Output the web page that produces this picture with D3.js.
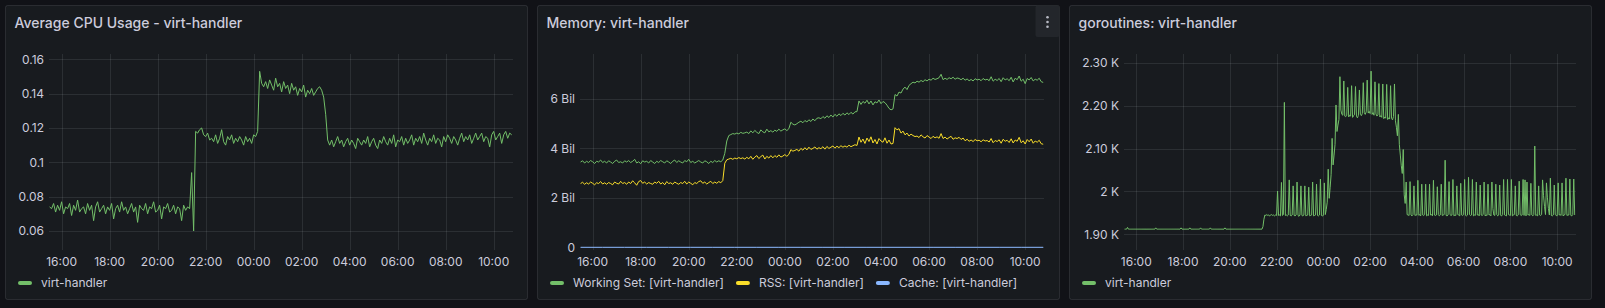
<!DOCTYPE html>
<html><head><meta charset="utf-8">
<script src="https://cdn.jsdelivr.net/npm/d3@7"></script>
<style>
html,body{margin:0;padding:0;background:#111217;overflow:hidden;}
svg{display:block;font-family:Inter,"Noto Sans",sans-serif;}
</style></head><body>
<svg id="chart" width="1605" height="308"></svg>
<script>
// ---------------- DATA ----------------
// x axis tick labels (shared)
const xTickLabels = ["16:00","18:00","20:00","22:00","00:00","02:00","04:00","06:00","08:00","10:00"];

// CPU: average cores, one value every 5 minutes from 15:30
const cpuUsage = [
0.074,0.073,0.076,0.071,0.075,0.072,0.077,0.070,0.074,0.073,0.076,0.069,
0.075,0.072,0.078,0.071,0.073,0.074,0.070,0.076,0.072,0.075,0.066,0.074,
0.077,0.071,0.073,0.075,0.070,0.074,0.072,0.076,0.067,0.073,0.075,0.071,
0.077,0.072,0.074,0.070,0.073,0.076,0.071,0.074,0.065,0.075,0.073,0.072,
0.076,0.070,0.074,0.073,0.077,0.071,0.072,0.075,0.067,0.074,0.073,0.076,
0.071,0.072,0.075,0.070,0.074,0.073,0.066,0.075,0.072,0.074,0.073,0.094,
0.060,0.118,0.117,0.119,0.120,0.116,0.115,0.117,0.113,0.114,0.112,0.116,
0.111,0.114,0.119,0.112,0.110,0.115,0.113,0.116,0.111,0.114,0.112,0.115,
0.113,0.110,0.115,0.112,0.114,0.111,0.116,0.115,0.118,0.153,0.146,0.144,
0.147,0.143,0.148,0.145,0.142,0.149,0.144,0.146,0.141,0.147,0.143,0.145,
0.140,0.146,0.142,0.144,0.139,0.143,0.141,0.145,0.138,0.142,0.140,0.143,
0.139,0.141,0.143,0.144,0.142,0.138,0.128,0.113,0.110,0.113,0.109,0.112,
0.115,0.111,0.113,0.109,0.112,0.114,0.110,0.113,0.111,0.108,0.114,0.112,
0.110,0.113,0.111,0.115,0.109,0.112,0.114,0.110,0.108,0.113,0.111,0.115,
0.112,0.110,0.114,0.111,0.116,0.109,0.113,0.112,0.115,0.110,0.114,0.111,
0.113,0.116,0.110,0.114,0.112,0.115,0.111,0.117,0.113,0.110,0.114,0.112,
0.116,0.111,0.114,0.113,0.109,0.115,0.112,0.116,0.114,0.111,0.115,0.113,
0.110,0.114,0.117,0.112,0.115,0.113,0.116,0.111,0.114,0.117,0.113,0.115,
0.117,0.112,0.115,0.114,0.109,0.116,0.118,0.113,0.115,0.117,0.111,0.116,
0.118,0.114,0.117,0.116];
const cpuTicks = [0.06,0.08,0.1,0.12,0.14,0.16];
const cpuTickLabels = ["0.06","0.08","0.1","0.12","0.14","0.16"];

// Memory (billions of bytes), every 5 minutes from 15:30
const workingSet = [
3.45,3.50,3.41,3.48,3.43,3.51,3.46,3.39,3.48,3.45,3.53,3.43,
3.48,3.41,3.50,3.45,3.39,3.48,3.53,3.43,3.46,3.41,3.50,3.45,
3.51,3.43,3.48,3.56,3.41,3.46,3.38,3.50,3.45,3.48,3.41,3.51,
3.45,3.39,3.48,3.43,3.51,3.46,3.41,3.50,3.45,3.39,3.48,3.53,
3.43,3.50,3.45,3.41,3.51,3.46,3.56,3.43,3.48,3.41,3.46,3.51,
3.45,3.41,3.50,3.46,3.39,3.48,3.43,3.51,3.45,3.50,3.46,3.53,
3.80,4.30,4.52,4.56,4.60,4.58,4.62,4.59,4.65,4.61,4.63,4.66,
4.60,4.71,4.63,4.73,4.65,4.60,4.75,4.67,4.63,4.78,4.67,4.72,
4.66,4.74,4.69,4.78,4.70,4.75,4.79,4.72,4.80,5.06,4.98,4.95,
5.00,5.06,5.10,5.04,5.13,5.07,5.16,5.09,5.19,5.12,5.22,5.24,
5.20,5.29,5.22,5.32,5.25,5.35,5.27,5.38,5.30,5.40,5.33,5.42,
5.35,5.44,5.37,5.46,5.39,5.48,5.49,5.92,5.78,5.90,5.83,5.95,
5.80,5.92,5.76,5.89,5.84,5.96,5.81,5.90,5.85,5.75,5.62,5.56,
5.60,6.18,6.12,6.28,6.24,6.40,6.48,6.38,6.55,6.62,6.68,6.65,
6.72,6.68,6.75,6.70,6.78,6.73,6.80,6.76,6.84,6.79,6.82,6.86,
7.00,6.78,6.84,6.79,6.86,6.82,6.88,6.80,6.85,6.83,6.78,6.84,
6.76,6.81,6.74,6.79,6.73,6.82,6.77,6.80,6.74,6.83,6.77,6.80,
6.74,6.90,6.72,6.80,6.75,6.83,6.70,6.86,6.77,6.82,6.74,6.88,
6.69,6.84,6.78,6.93,6.72,6.80,6.62,6.83,6.77,6.87,6.73,6.80,
6.76,6.84,6.70,6.67];
const rss = [
2.58,2.63,2.55,2.61,2.56,2.64,2.59,2.53,2.61,2.58,2.66,2.56,
2.61,2.55,2.62,2.58,2.53,2.64,2.59,2.56,2.67,2.58,2.62,2.55,
2.64,2.58,2.69,2.61,2.51,2.66,2.70,2.59,2.64,2.56,2.62,2.58,
2.55,2.64,2.59,2.67,2.56,2.62,2.53,2.66,2.58,2.61,2.55,2.64,
2.59,2.55,2.62,2.58,2.67,2.56,2.64,2.59,2.53,2.62,2.58,2.66,
2.69,2.59,2.64,2.56,2.62,2.67,2.58,2.64,2.59,2.66,2.61,2.70,
3.40,3.54,3.57,3.60,3.56,3.61,3.58,3.63,3.59,3.62,3.57,3.64,
3.58,3.68,3.56,3.65,3.71,3.59,3.67,3.73,3.57,3.68,3.61,3.71,
3.62,3.71,3.64,3.74,3.65,3.69,3.75,3.68,3.76,3.95,3.89,3.92,
3.96,3.89,4.00,3.93,4.03,3.94,4.05,3.96,4.00,4.06,3.97,4.03,
3.99,4.07,3.97,4.08,4.00,4.05,4.10,4.01,4.09,4.03,4.11,4.05,
4.10,4.05,4.13,4.07,4.11,4.15,4.12,4.46,4.25,4.38,4.20,4.42,
4.28,4.47,4.22,4.36,4.18,4.40,4.30,4.25,4.43,4.21,4.34,4.18,
4.20,4.84,4.75,4.80,4.62,4.70,4.55,4.62,4.50,4.58,4.52,4.48,
4.50,4.44,4.55,4.47,4.42,4.52,4.46,4.40,4.49,4.43,4.47,4.41,
4.60,4.40,4.46,4.38,4.44,4.49,4.37,4.43,4.40,4.45,4.36,4.42,
4.31,4.37,4.29,4.34,4.28,4.36,4.31,4.33,4.27,4.35,4.30,4.32,
4.26,4.40,4.23,4.32,4.28,4.35,4.21,4.37,4.29,4.33,4.24,4.39,
4.22,4.34,4.29,4.45,4.23,4.31,4.18,4.36,4.27,4.38,4.21,4.30,
4.25,4.33,4.19,4.17];
// cache: one value every 55 minutes from 15:30
const cache = [0,0,0,0,0,0,0,0,0,0,0,0,0,0,0,0,0,0,0,0,0,0];
const memTicks = [0,2,4,6];
const memTickLabels = ["0","2 Bil","4 Bil","6 Bil"];
const memLegend = ["Working Set: [virt-handler]","RSS: [virt-handler]","Cache: [virt-handler]"];

// goroutines, one value every 2.5 minutes from 15:30
const goroutines = [
1912,1912,1912,1916,1912,1912,1912,1912,1912,1912,1912,1912,1912,1912,1912,1912,1912,1912,1912,1912,1912,1912,1912,1912,
1912,1912,1912,1912,1912,1912,1912,1912,1915,1912,1912,1912,1912,1912,1912,1912,1912,1912,1912,1912,1912,1912,1912,1912,
1912,1912,1912,1912,1912,1912,1912,1912,1912,1912,1915,1912,1912,1912,1912,1912,1912,1912,1912,1915,1912,1912,1912,1912,
1912,1912,1912,1912,1912,1912,1915,1912,1912,1912,1912,1912,1912,1912,1912,1912,1915,1912,1912,1912,1912,1912,1912,1912,
1912,1912,1912,1912,1912,1912,1912,1915,1912,1912,1912,1912,1912,1912,1912,1912,1912,1912,1912,1912,1912,1912,1912,1912,
1912,1912,1912,1912,1912,1912,1912,1912,1912,1912,1912,1912,1912,1912,1912,1912,1912,1912,1912,1912,1912,1912,1918,1935,
1945,1944,1946,1944,1945,1943,1945,1946,1944,1945,1943,1945,1944,2001,1944,1945,1943,2021,1944,1946,2208,1944,1945,1943,
1945,2027,1944,1943,1945,2013,1944,1943,1945,2022,1944,1942,1945,2013,1944,1943,1945,2013,1943,1944,1945,2010,1943,1944,
1945,2022,1943,1944,1945,2017,1944,1943,1945,2029,1944,1943,1944,2020,1946,1958,1975,2052,1984,2010,2040,2124,2062,2085,
2110,2202,2140,2155,2168,2268,2190,2180,2178,2258,2176,2175,2177,2243,2174,2178,2176,2247,2173,2177,2179,2245,2175,2172,
2178,2237,2180,2177,2182,2254,2184,2180,2186,2260,2183,2187,2182,2281,2180,2184,2178,2256,2181,2176,2179,2252,2174,2177,
2173,2251,2170,2174,2171,2250,2168,2172,2169,2247,2171,2167,2175,2251,2165,2150,2130,2180,2110,2085,2060,2042,2098,1992,
1972,2022,1946,1945,1944,2023,1945,1943,1946,2013,1944,1945,1945,2026,1944,1946,1943,2017,1945,1944,1946,2017,1943,1945,
1944,2017,1945,1946,1943,2026,1945,1944,1945,2011,1946,1943,1945,2017,1944,1945,1946,2073,1944,1943,1945,2023,1946,1944,
1945,2028,1943,1945,1944,2013,1946,1945,1943,2019,1945,1944,1946,2028,1944,1943,1945,2033,1946,1944,1945,2028,1943,1945,
1944,2022,1945,1946,1943,2015,1945,1944,1946,2022,1943,1945,1944,2017,1945,1946,1943,2022,1960,1945,1944,2017,1946,1943,
1945,2015,1944,1943,1946,2028,1945,1944,1943,2028,1946,1945,1944,2028,1943,1945,1946,2013,1944,1943,1945,2024,1946,1944,
1945,2028,1944,2027,1943,2022,1945,1946,1944,2019,1945,1943,1946,2106,1944,1945,1943,2013,1945,1944,1946,2027,1990,1965,
1946,2020,1985,1960,1945,2031,1944,1943,1945,2015,1946,1944,1943,2020,1945,1946,1944,2020,1943,1945,1946,2031,1944,1945,
1945,2029,1944,1943,1946,2029,1945];
const gorTicks = [1900,2000,2100,2200,2300];
const gorTickLabels = ["1.90 K","2 K","2.10 K","2.20 K","2.30 K"];

// ---------------- RENDER ----------------
const START = new Date(2024,0,1,15,30);
const timeDomain = [new Date(2024,0,1,15,28,30), new Date(2024,0,2,10,47)];
function toPoints(values, stepMin){
  return values.map((v,i)=>({t:new Date(START.getTime()+i*stepMin*60000), v:v}));
}
const xTickDates = xTickLabels.map(s=>{
  const h = +s.slice(0,2);
  return h >= 15 ? new Date(2024,0,1,h,0) : new Date(2024,0,2,h,0);
});

const TEXT = "#ccccdc";
const GRID = "rgba(240,250,255,0.09)";
const svg = d3.select("#chart");

function drawPanel(cfg){
  const g = svg.append("g");
  g.append("rect").attr("x",cfg.x+0.5).attr("y",5.5).attr("width",cfg.w-1).attr("height",294)
    .attr("rx",2).attr("fill","#181b1f").attr("stroke","rgba(204,204,220,0.12)");
  g.append("text").attr("x",cfg.x+9.5).attr("y",28).attr("fill",TEXT)
    .attr("font-size",14).attr("font-weight",500).text(cfg.title);

  const p = cfg.plot;
  const x = d3.scaleTime().domain(timeDomain).range([p.l,p.r]);
  const y = d3.scaleLinear().domain(cfg.yDomain).range([p.b,p.t]);

  // grid
  const grid = g.append("g").attr("stroke",GRID).attr("stroke-width",1).attr("shape-rendering","crispEdges");
  grid.selectAll(".h").data(cfg.yTicks).join("line")
    .attr("x1",p.l).attr("x2",p.r)
    .attr("y1",d=>Math.round(y(d))+0.5).attr("y2",d=>Math.round(y(d))+0.5);
  grid.selectAll(".v").data(xTickDates).join("line")
    .attr("y1",p.t).attr("y2",p.b)
    .attr("x1",d=>Math.round(x(d))+0.5).attr("x2",d=>Math.round(x(d))+0.5);

  // y tick labels
  g.append("g").selectAll("text").data(cfg.yTicks).join("text")
    .attr("x",p.l-5).attr("y",d=>y(d)+4.3).attr("text-anchor","end")
    .attr("fill",TEXT).attr("font-size",12).text((d,i)=>cfg.yTickLabels[i]);
  // x tick labels
  g.append("g").selectAll("text").data(xTickDates).join("text")
    .attr("x",d=>x(d)).attr("y",266).attr("text-anchor","middle")
    .attr("fill",TEXT).attr("font-size",12).text((d,i)=>xTickLabels[i]);

  // series
  const clipId = "clip"+cfg.x;
  g.append("clipPath").attr("id",clipId).append("rect")
    .attr("x",p.l).attr("y",p.t-2).attr("width",p.r-p.l).attr("height",p.b-p.t+4);
  const line = d3.line().x(d=>x(d.t)).y(d=>y(d.v));
  const sg = g.append("g").attr("clip-path","url(#"+clipId+")");
  cfg.series.forEach(s=>{
    sg.append("path").datum(toPoints(s.values,s.step)).attr("d",line)
      .attr("fill","none").attr("stroke",s.color).attr("stroke-width",1)
      .attr("stroke-linejoin","round");
  });

  // legend
  let lx = cfg.x+13;
  cfg.series.forEach(s=>{
    g.append("rect").attr("x",lx).attr("y",281).attr("width",14).attr("height",4)
      .attr("rx",2).attr("fill",s.color);
    const t = g.append("text").attr("x",lx+23).attr("y",287).attr("fill",TEXT)
      .attr("font-size",12).text(s.name);
    lx = lx+23+t.node().getComputedTextLength()+12;
  });

  if(cfg.menu){
    g.append("rect").attr("x",cfg.x+cfg.w-24.5).attr("y",5.5).attr("width",24).attr("height",31.5)
      .attr("rx",2).attr("fill","#23262b");
    [17.3,22,26.7].forEach(cy=>{
      g.append("circle").attr("cx",cfg.x+cfg.w-12.5).attr("cy",cy).attr("r",1.3).attr("fill","#b8bac4");
    });
  }
}

drawPanel({
  x:5, w:523, title:"Average CPU Usage - virt-handler",
  plot:{l:49,r:512.5,t:54,b:250},
  yDomain:[0.0489,0.1631], yTicks:cpuTicks, yTickLabels:cpuTickLabels,
  series:[{name:"virt-handler",values:cpuUsage,step:5,color:"#73bf69"}]
});
drawPanel({
  x:537, w:523, title:"Memory: virt-handler", menu:true,
  plot:{l:580,r:1044,t:54,b:250},
  yDomain:[-0.109,7.82], yTicks:memTicks, yTickLabels:memTickLabels,
  series:[
    {name:memLegend[0],values:workingSet,step:5,color:"#73bf69"},
    {name:memLegend[1],values:rss,step:5,color:"#fade2a"},
    {name:memLegend[2],values:cache,step:55,color:"#8ab8ff"}
  ]
});
drawPanel({
  x:1069, w:523, title:"goroutines: virt-handler",
  plot:{l:1124,r:1575.5,t:54,b:250},
  yDomain:[1863.3,2321], yTicks:gorTicks, yTickLabels:gorTickLabels,
  series:[{name:"virt-handler",values:goroutines,step:2.5,color:"#73bf69"}]
});
</script>
</body></html>
